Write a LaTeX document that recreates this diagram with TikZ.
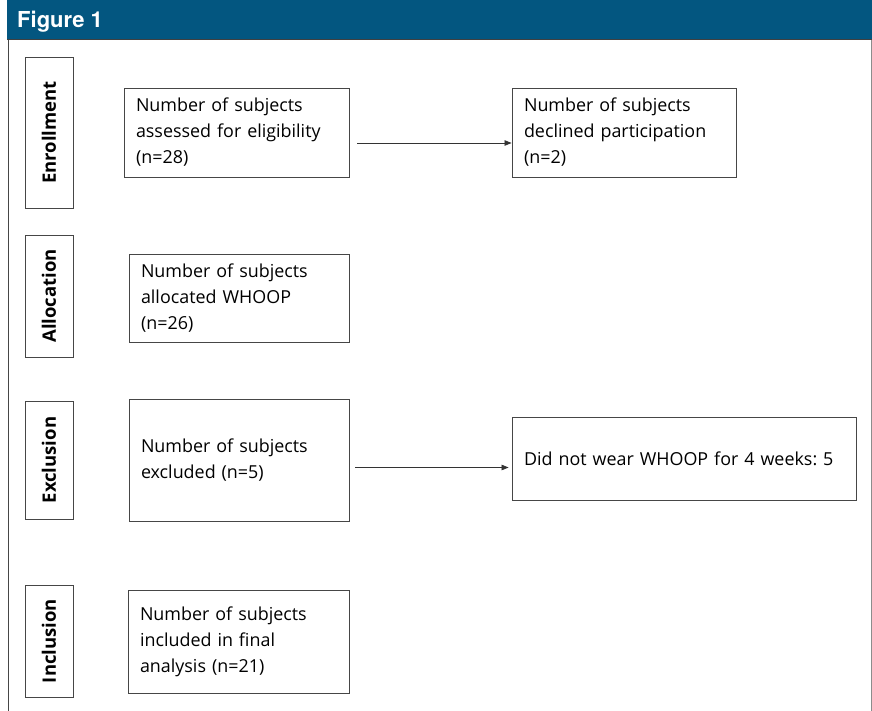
\documentclass[tikz,border=0pt]{standalone}
\usepackage{fontspec}
\setmainfont{Open Sans}
\newfontfamily\headfont{TeX Gyre Heros}
\usetikzlibrary{arrows.meta,positioning,calc}
\definecolor{headblue}{RGB}{3,86,128}
\definecolor{framegray}{RGB}{70,70,70}
\frenchspacing

\begin{document}
\begin{tikzpicture}[
  x=1pt, y=-1pt,
  stage/.style={draw=framegray, line width=0.9pt, rotate=90, minimum height=48pt,
                inner sep=0pt, font=\fontsize{18.5}{22}\selectfont\bfseries},
  box/.style={draw=framegray, line width=0.9pt, inner xsep=12pt, inner ysep=0pt,
              align=left, font=\fontsize{17.9}{26}\selectfont},
  arr/.style={-{Triangle[length=7pt,width=5.5pt]}, line width=0.7pt, black!80}
]
  \useasboundingbox (0,0) rectangle (872,711);

  % Header and frame
  \fill[headblue] (7,0) rectangle (872,40);
  \draw[black!75, line width=1pt] (7,40) -- (872,40);
  \draw[framegray, line width=1pt] (8,40) -- (8,711);
  \draw[black!45, line width=1pt] (871,40) -- (871,711);
  \node[font=\headfont\bfseries\fontsize{22}{26}\selectfont, text=white,
        anchor=base west, inner sep=0pt] (title) at (17,28) {Figure 1};

  % Stage labels
  \foreach \n/\t/\y/\h in {senr/Enrollment/132.5/151, salloc/Allocation/296/122,
                           sexcl/Exclusion/460/118, sincl/Inclusion/641/112} {
    \node[stage, minimum width=\h pt] (\n) at (49,\y) {\t};
  }

  % Boxes
  \node[box, text width=201pt, minimum height=89pt] (assessed) at (236.5,132.5)
    {Number of subjects\\assessed for eligibility\\(n=28)};
  \node[box, text width=200pt, minimum height=89pt] (declined) at (624,132.5)
    {Number of subjects\\declined participation\\(n=2)};
  \node[box, text width=196pt, minimum height=88pt] (allocated) at (239,298)
    {Number of subjects\\allocated WHOOP\\(n=26)};
  \node[box, text width=196pt, minimum height=122pt] (excluded) at (239,460)
    {Number of subjects\\excluded (n=5)};
  \node[box, text width=320pt, minimum height=83pt] (nowear) at (684,458.5)
    {Did not wear WHOOP for 4 weeks: 5};
  \node[box, text width=197pt, minimum height=103pt] (included) at (238.5,641.5)
    {Number of subjects\\included in final\\analysis (n=21)};

  % Arrows
  \coordinate (a1) at ([xshift=8pt, yshift=-10.5pt]assessed.east);
  \draw[arr] (a1) -- (a1 -| declined.west);
  \coordinate (a2) at ([xshift=6pt, yshift=-7.5pt]excluded.east);
  \draw[arr] (a2) -- ([xshift=-3pt]a2 -| nowear.west);
\end{tikzpicture}
\end{document}
